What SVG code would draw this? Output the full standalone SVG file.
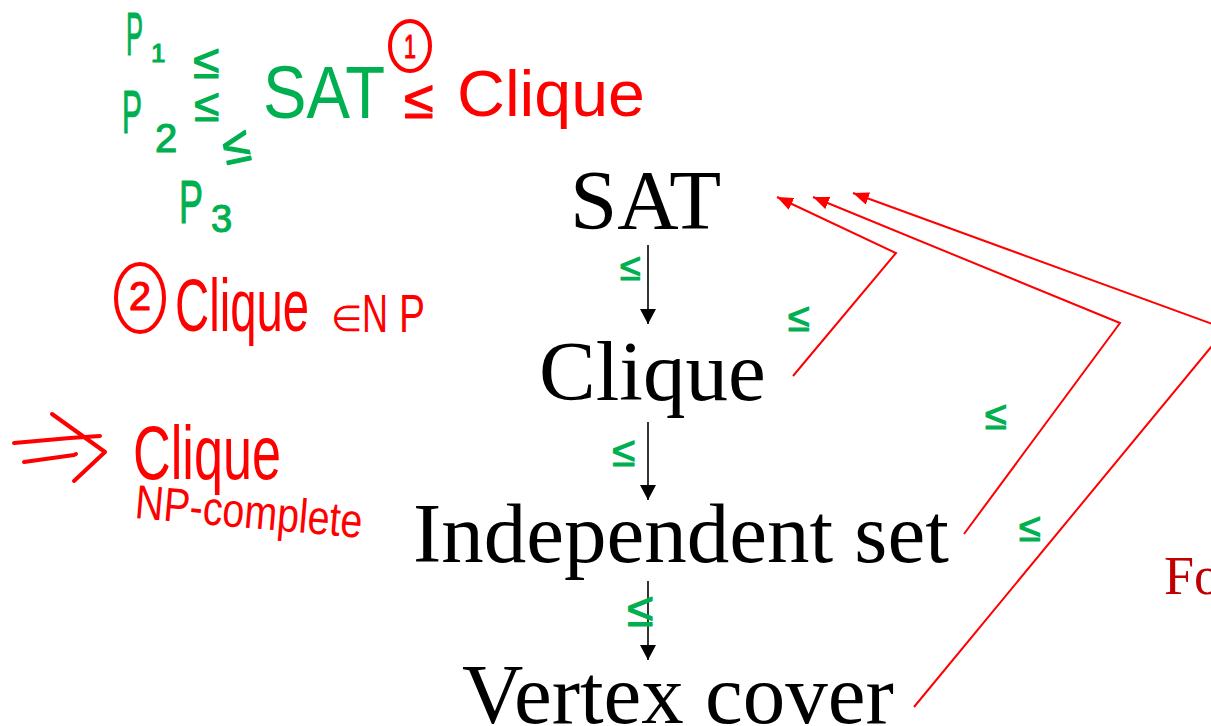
<svg xmlns="http://www.w3.org/2000/svg" width="1211" height="726" viewBox="0 0 1211 726">
  <style>
    .node { font-family: "Liberation Serif", "Times New Roman", serif; font-size: 85px; fill: #000; }
    .ink-g { font-family: "Liberation Sans", Arial, sans-serif; fill: #00b050; stroke: #00b050; stroke-width: 1.2; stroke-linejoin: round; }
    .ink-r { font-family: "Liberation Sans", Arial, sans-serif; fill: #ff0000; stroke: #ff0000; stroke-width: 1.2; stroke-linejoin: round; }
    .thin { stroke-width: 0; }
    .pen-r { fill: none; stroke: #ff0000; stroke-width: 4; stroke-linecap: round; stroke-linejoin: round; }
    .down { stroke: #000; stroke-width: 1.6; fill: none; }
    .back { stroke: #ff0000; stroke-width: 2; fill: none; }
    .note { font-family: "Liberation Serif", "Times New Roman", serif; font-size: 54px; fill: #c00000; }
  </style>
  <defs>
    <marker id="head-black" markerUnits="userSpaceOnUse" markerWidth="16" markerHeight="16" refX="15" refY="8" orient="auto">
      <path d="M0,0 L15,8 L0,16 z" fill="#000"/>
    </marker>
    <marker id="head-red" markerUnits="userSpaceOnUse" markerWidth="17" markerHeight="13" refX="16" refY="6.5" orient="auto">
      <path d="M0,0 L16,6.5 L0,13 z" fill="#ff0000"/>
    </marker>
  </defs>

  <rect width="1211" height="726" fill="#fff"/>

  <!-- problem chain -->
  <g id="node-sat"><text class="node" x="570" y="229">SAT</text></g>
  <g id="node-clique"><text class="node" x="539" y="400">Clique</text></g>
  <g id="node-indset"><text class="node" x="413" y="562">Independent set</text></g>
  <g id="node-vc"><text class="node" x="462" y="723">Vertex cover</text></g>
  <g id="note-for"><text class="note" x="1164" y="594">Fo</text></g>

  <g id="connectors">
    <line class="down" x1="648" y1="245" x2="648" y2="324" marker-end="url(#head-black)"/>
    <line class="down" x1="648" y1="422" x2="648" y2="500" marker-end="url(#head-black)"/>
    <line class="down" x1="648" y1="581" x2="648" y2="660" marker-end="url(#head-black)"/>
    <polyline class="back" points="793,376 896,253 777,197" marker-end="url(#head-red)"/>
    <polyline class="back" points="964,534 1120,323 813,197" marker-end="url(#head-red)"/>
    <polyline class="back" points="914,707 1226,329 853,193" marker-end="url(#head-red)"/>
  </g>

  <!-- green reduction notes -->
  <g id="ink-green">
    <text class="ink-g" y="55"><tspan x="126" font-size="62" textLength="17" lengthAdjust="spacingAndGlyphs">P</tspan><tspan x="151" y="62" font-size="26">1</tspan></text>
    <text class="ink-g" x="193" y="78" font-size="48">≤</text>
    <text class="ink-g" y="133"><tspan x="122" font-size="62" textLength="20" lengthAdjust="spacingAndGlyphs">P</tspan><tspan x="155" y="152" font-size="40">2</tspan></text>
    <text class="ink-g" x="194" y="121" font-size="46">≤</text>
    <text class="ink-g" x="0" y="0" font-size="50" transform="translate(226,165) rotate(-12)">≤</text>
    <text class="ink-g" y="223"><tspan x="179" font-size="62" textLength="24" lengthAdjust="spacingAndGlyphs">P</tspan><tspan x="211" y="232" font-size="38">3</tspan></text>
    <text class="ink-g thin" x="263" y="118" font-size="74" textLength="122" lengthAdjust="spacingAndGlyphs">SAT</text>

    <text class="ink-g" x="620" y="280" font-size="38">≤</text>
    <text class="ink-g" x="788" y="331" font-size="40">≤</text>
    <text class="ink-g" x="612" y="466" font-size="42">≤</text>
    <text class="ink-g" x="985" y="429" font-size="40">≤</text>
    <text class="ink-g" x="1019" y="541" font-size="40">≤</text>
    <text class="ink-g" x="627" y="626" font-size="48">≤</text>
  </g>

  <!-- red notes -->
  <g id="ink-red">
    <ellipse class="pen-r" cx="410" cy="46" rx="20" ry="25"/>
    <text class="ink-r" x="404" y="58" font-size="34" textLength="12" lengthAdjust="spacingAndGlyphs">1</text>
    <text class="ink-r" x="404" y="118" font-size="54">≤</text>
    <text class="ink-r thin" x="457" y="116" font-size="64" textLength="188" lengthAdjust="spacingAndGlyphs">Clique</text>

    <ellipse class="pen-r" cx="140" cy="298" rx="24" ry="34"/>
    <text class="ink-r" x="129" y="310" font-size="40" textLength="22" lengthAdjust="spacingAndGlyphs">2</text>
    <text class="ink-r thin" y="331"><tspan x="175" font-size="74" textLength="134" lengthAdjust="spacingAndGlyphs">Clique</tspan><tspan x="331" font-size="36">∈</tspan><tspan x="362" y="332" font-size="54" textLength="26" lengthAdjust="spacingAndGlyphs">N</tspan><tspan x="399" font-size="54" textLength="26" lengthAdjust="spacingAndGlyphs">P</tspan></text>

    <path class="pen-r" d="M14,443 L70,438 L100,436 M24,462 L74,455 L76,454 M52,414 L105,452 L74,481"/>
    <text class="ink-r thin" x="133" y="479" font-size="76" textLength="148" lengthAdjust="spacingAndGlyphs">Clique</text>
    <text class="ink-r thin" x="0" y="0" font-size="48" textLength="228" lengthAdjust="spacingAndGlyphs" transform="translate(134,518) rotate(5)">NP-complete</text>
  </g>
</svg>
